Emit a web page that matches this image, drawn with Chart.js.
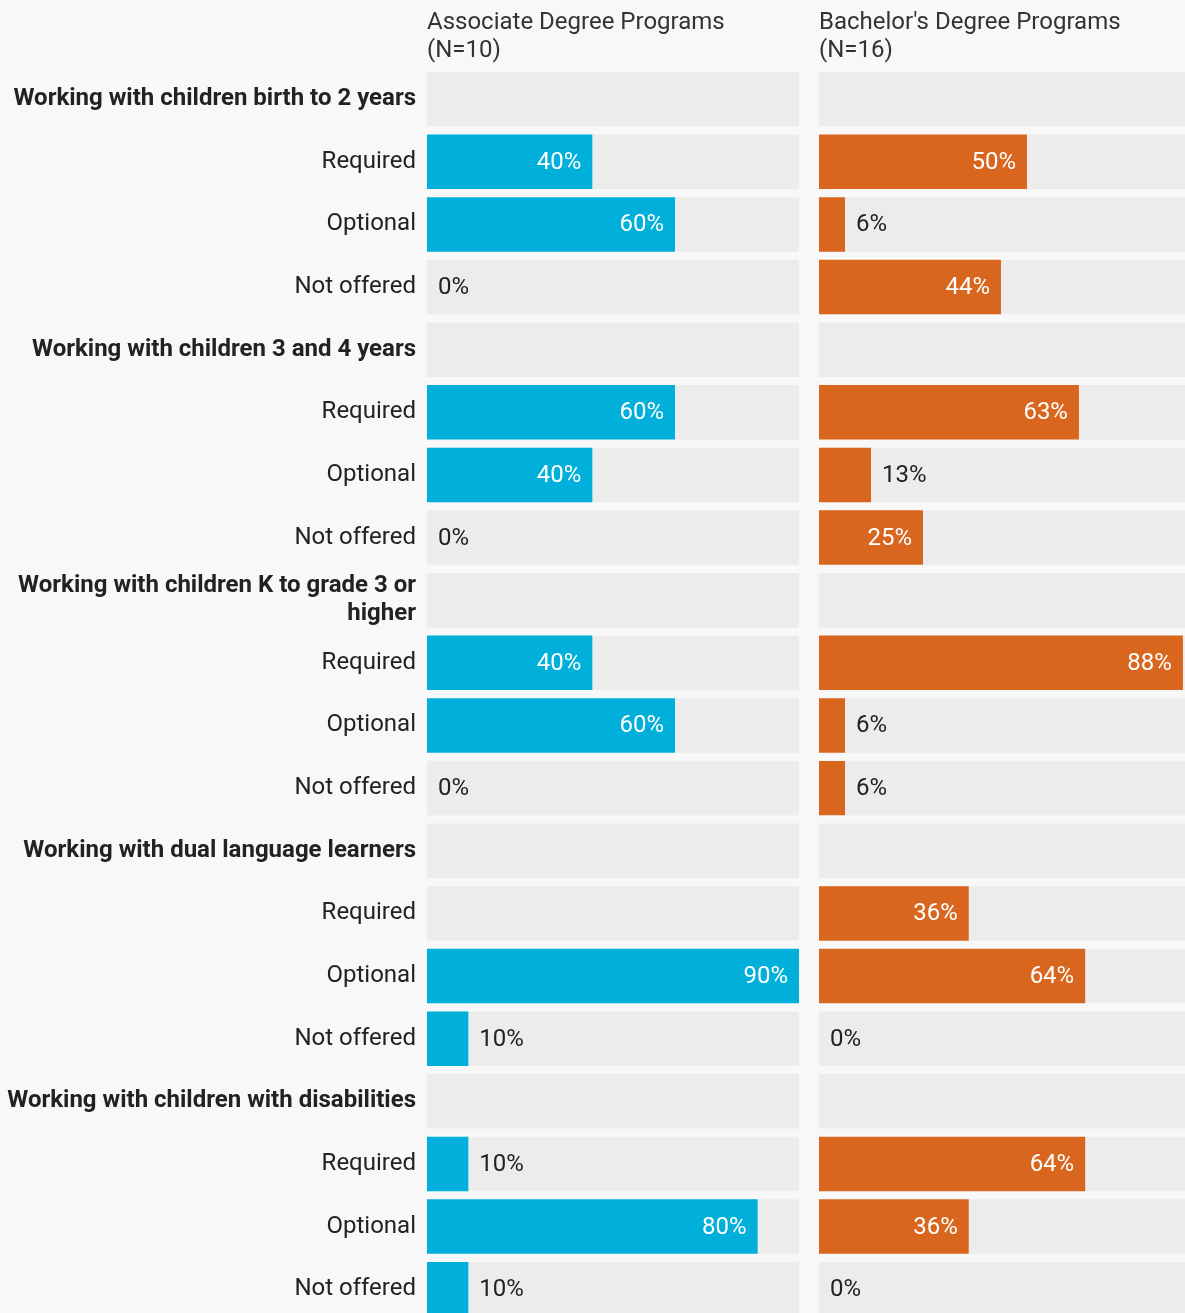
<!DOCTYPE html>
<html>
<head>
<meta charset="utf-8">
<script src="https://cdn.jsdelivr.net/npm/chart.js@4.4.1/dist/chart.umd.min.js"></script>
<style>
  html, body { margin: 0; padding: 0; background: #f8f8f8; overflow: hidden; }
  body { width: 1185px; height: 1313px; position: relative; }
  canvas { position: absolute; top: 0; }
  #assoc { left: 0; }
  #bach { left: 819px; }
</style>
</head>
<body>
<canvas id="assoc" width="799" height="1322"></canvas>
<canvas id="bach" width="366" height="1322"></canvas>
<script>
// topic groups, each followed by its three rows
var groups = [
    "Working with children birth to 2 years",
    "Working with children 3 and 4 years",
    ["Working with children K to grade 3 or", "higher"],
    "Working with dual language learners",
    "Working with children with disabilities"
];
var rowNames = ["Required", "Optional", "Not offered"];

// percentages per group: required, optional, not offered (null = no value shown)
var assocValues = [
    [40, 60, 0],
    [60, 40, 0],
    [40, 60, 0],
    [null, 90, 10],
    [10, 80, 10]
];
var bachValues = [
    [50, 6.25, 43.75],
    [62.5, 12.5, 25],
    [87.5, 6.25, 6.25],
    [36, 64, 0],
    [64, 36, 0]
];

var assocTitle = ["Associate Degree Programs", "(N=10)"];
var bachTitle = ["Bachelor's Degree Programs", "(N=16)"];

var labels = [];
var isHeader = [];
for (var g = 0; g < groups.length; g++) {
    labels.push(groups[g]);
    isHeader.push(true);
    for (var r = 0; r < rowNames.length; r++) {
        labels.push(rowNames[r]);
        isHeader.push(false);
    }
}

function flatten(values) {
    var out = [];
    for (var g = 0; g < values.length; g++) {
        out.push(null);
        for (var r = 0; r < values[g].length; r++) out.push(values[g][r]);
    }
    return out;
}

Chart.defaults.font.family = "Roboto";
Chart.defaults.color = "#222";

// light grey track behind every row
var rowTrack = {
    id: "rowTrack",
    beforeDatasetsDraw: function (chart) {
        var ctx = chart.ctx, area = chart.chartArea, y = chart.scales.y;
        var h = y.getPixelForValue(1) - y.getPixelForValue(0);
        var bh = h * 0.87;
        ctx.save();
        ctx.fillStyle = "#ececec";
        for (var i = 0; i < chart.data.labels.length; i++) {
            var cy = y.getPixelForValue(i);
            ctx.fillRect(area.left, cy - bh / 2, area.right - area.left, bh);
        }
        ctx.restore();
    }
};

// percentage text at the end of each bar
var valueLabels = {
    id: "valueLabels",
    afterDatasetsDraw: function (chart) {
        var ctx = chart.ctx;
        var meta = chart.getDatasetMeta(0);
        var data = chart.data.datasets[0].data;
        ctx.save();
        ctx.font = "24px Roboto";
        ctx.textBaseline = "middle";
        meta.data.forEach(function (bar, i) {
            var v = data[i];
            if (v === null) return;
            var txt = Math.round(v) + "%";
            var tw = ctx.measureText(txt).width;
            var w = bar.x - bar.base;
            if (w >= tw + 22) {
                ctx.fillStyle = "#fff";
                ctx.textAlign = "right";
                ctx.fillText(txt, bar.x - 11, bar.y + 1);
            } else {
                ctx.fillStyle = "#222";
                ctx.textAlign = "left";
                ctx.fillText(txt, bar.x + 11, bar.y + 1);
            }
        });
        ctx.restore();
    }
};

function makeChart(id, values, color, max, title, showLabels) {
    return new Chart(document.getElementById(id), {
        type: "bar",
        data: {
            labels: labels,
            datasets: [{
                data: flatten(values),
                backgroundColor: color,
                borderWidth: 0,
                barPercentage: 0.87,
                categoryPercentage: 1
            }]
        },
        options: {
            indexAxis: "y",
            responsive: false,
            animation: false,
            devicePixelRatio: 1,
            layout: { padding: { top: 0, bottom: 1.5, left: 0, right: 0 } },
            plugins: {
                legend: { display: false },
                tooltip: { enabled: false },
                title: {
                    display: true,
                    text: title,
                    align: "start",
                    fullSize: false,
                    color: "#333",
                    font: { size: 24, weight: "normal", lineHeight: 1.17 },
                    padding: { top: 8.5, bottom: 3.2 }
                }
            },
            scales: {
                x: { display: false, min: 0, max: max },
                y: {
                    display: showLabels,
                    grid: { display: false, drawTicks: false },
                    border: { display: false },
                    ticks: {
                        padding: 11,
                        color: "#222",
                        font: function (c) {
                            return { size: 24, weight: isHeader[c.index] ? "bold" : "normal", lineHeight: 1.17 };
                        }
                    },
                    afterFit: function (scale) {
                        scale.paddingTop = 0;
                        scale.paddingBottom = 0;
                        if (showLabels) scale.width = 427;
                    }
                }
            }
        },
        plugins: [rowTrack, valueLabels]
    });
}

makeChart("assoc", assocValues, "#00b0da", 90, assocTitle, true);
makeChart("bach", bachValues, "#d9661f", 88, bachTitle, false);
</script>
</body>
</html>
